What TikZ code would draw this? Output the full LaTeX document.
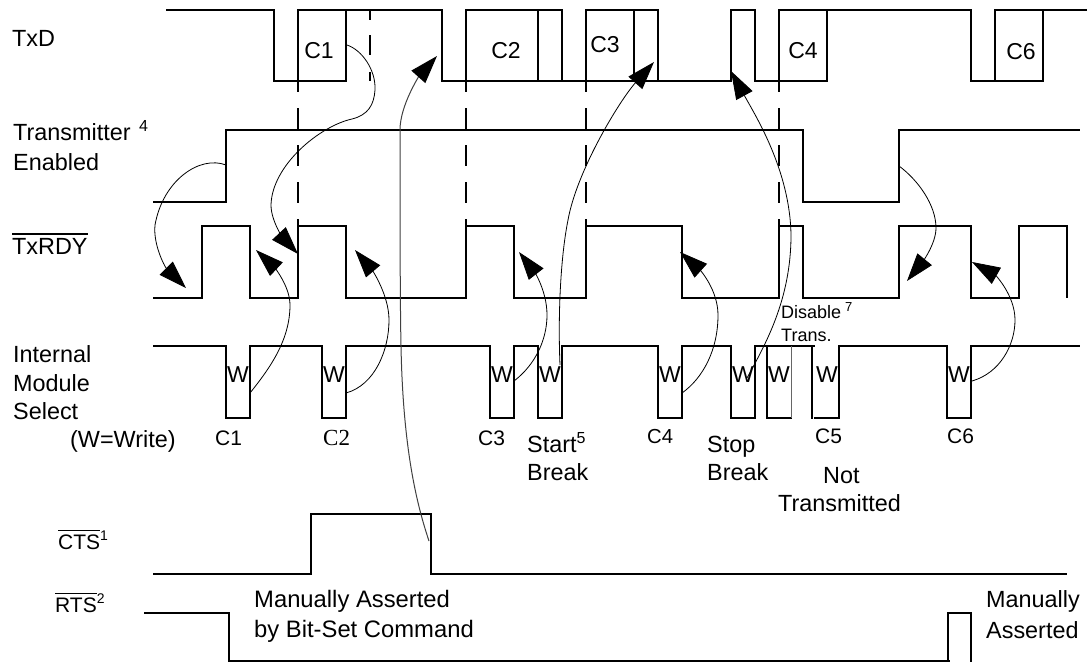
\documentclass[tikz,border=0pt]{standalone}
\usepackage{fontspec}
\setmainfont{Liberation Sans}
\newfontfamily\timesfont{Liberation Serif}
\usetikzlibrary{arrows.meta}
\newcommand{\supnum}[2][16]{\raisebox{9pt}{\fontsize{#1}{#1}\selectfont #2}}
\newcommand{\barsig}[1]{\leavevmode\vbox{\hrule height 1.4pt \kern 3.4pt\hbox{#1}}}

\begin{document}
\begin{tikzpicture}[
    x=1pt, y=-1pt,
    wave/.style={line width=1.5pt, line cap=butt, line join=miter, color=black},
    guide/.style={line width=1.5pt, color=black, dash pattern=on 21pt off 16pt},
    flow/.style={-{Triangle[length=28pt,width=18.5pt,black]}, line width=0.8pt, color=black},
    lab/.style={anchor=base west, inner sep=0pt, text=black, font=\fontsize{23.4}{28}\selectfont},
    big/.style={lab, font=\fontsize{23.8}{28}\selectfont},
    sig/.style={lab, font=\fontsize{21}{26}\selectfont},
    tiny/.style={lab, font=\fontsize{18}{22}\selectfont},
    chr/.style={anchor=base, inner sep=0pt, text=black, font=\fontsize{23}{28}\selectfont},
    wr/.style={anchor=base, inner sep=0pt, text=black, font=\fontsize{23}{26}\selectfont}
  ]
\useasboundingbox (0,0) rectangle (1087,662);

% ---------------- TxD ----------------
\foreach \a/\b in {166/274,298/442,466/562,586/658,731/755,779/971,995/1087}
  \draw[wave] (\a,10) -- (\b,10);
\foreach \a/\b in {274/346,442/658,731/658,755/827,971/1043}
  \draw[wave] (\a,81) -- (\b,81);
\foreach \a in {274,298,346,442,466,538,562,586,634,658,731,755,779,827,971,995,1043}
  \draw[wave] (\a,9.25) -- (\a,81.75);

% ---------------- dashed guides ----------------
\foreach \a in {298,466,586,779}
  \draw[guide, dash phase=11pt] (\a,82) -- (\a,225);
\draw[guide, dash pattern=on 10pt off 15pt on 20pt off 17pt] (370,10) -- (370,81);

% ---------------- other signals ----------------
% transmitter enabled
\draw[wave] (153,202) -| (226,130) -| (803,202) -| (899,130) -- (1080,130);
% txrdy
\draw[wave] (153,298) -| (202,226) -| (250,298) -| (298,226) -| (346,298) -| (466,226)
  -| (514,298) -| (586,226) -| (682,298) -| (779,226) -| (803,298) -| (899,226)
  -| (971,298) -| (1019,226) -| (1067,298);
% module select
\draw[wave] (153,346) -| (226,418) -| (250,346) -| (322,418) -| (346,346) -| (490,418)
  -| (514,346) -| (538,418) -| (562,346) -| (658,418) -| (682,346) -| (731,418)
  -| (755,346) -- (815,346);
\draw[wave] (767,346) |- (792,418);
\draw[line width=1pt, color=black!60] (791,346) -- (791,418);
\draw[wave] (812,346) -- (812,419);
\draw[wave] (814,418) -| (839,346) -| (947,418) -| (971,346) -- (1080,346);
% cts
\draw[wave] (153,574) -| (311,514) -| (431,574) -- (1067,574);
% rts
\draw[wave] (144,613) -| (229,661) -- (950,661);
\draw[wave] (948,661) |- (971,613) -- (971,662);

% ---------------- signal names ----------------
\node[lab] (txd) at (12,46) {TxD};
\node[lab] (ten) at (13,140) {Transmitter\kern8.5pt\supnum{4}};
\node[lab] (enb) at (13,170) {Enabled};
\node[lab] (rdy) at (12,254) {\barsig{TxRDY}};
\node[lab] (int) at (13,362) {Internal};
\node[lab] (mod) at (13,391) {Module};
\node[lab] (sel) at (13,419) {Select};
\node[lab] (wwr) at (70,447) {(W=Write)};
\node[sig] (cts) at (58,549) {\barsig{CTS}\supnum[14]{1}};
\node[sig] (rts) at (55,612) {\barsig{RTS}\supnum[14]{2}};

% ---------------- characters on TxD ----------------
\foreach \n/\t/\xc/\yc in {1/C1/319/58,2/C2/506/58,3/C3/605/52,4/C4/803/58,6/C6/1021/59}
  \node[chr] (tc\n) at (\xc,\yc) {\t};

% ---------------- write strobes ----------------
\foreach \i/\xw in {1/238,2/334,3/502,4/550,5/670,6/743,7/779,8/827,9/959}
  \node[wr] (w\i) at (\xw,382) {W};

% ---------------- strobe captions ----------------
\node[sig] (lc1) at (215,445) {C1};
\node[sig, font=\fontsize{23}{28}\timesfont] (lc2) at (323,445) {C2};
\node[sig] (lc3) at (478,445) {C3};
\node[sig, font=\fontsize{20.3}{24}\selectfont] (lc4) at (647,443) {C4};
\node[sig] (lc5) at (815,443) {C5};
\node[sig] (lc6) at (947,443) {C6};
\node[lab] (stt) at (527,452) {Start\supnum{5}};
\node[lab] (brk) at (527,480) {Break};
\node[lab] (stp) at (707,452) {Stop};
\node[lab] (brs) at (707,480) {Break};
\node[lab] (nt1) at (823,483) {Not};
\node[lab] (nt2) at (778,511) {Transmitted};
\node[tiny] (dis) at (781,318) {Disable\kern4pt\raisebox{7pt}{\fontsize{13}{13}\selectfont 7}};
\node[tiny] (trs) at (781,341) {Trans.};
\node[big] (ma1) at (254,607) {Manually Asserted};
\node[big] (ma2) at (254,637) {by Bit-Set Command};
\node[lab] (mb1) at (986,607) {Manually};
\node[lab] (mb2) at (986,638) {Asserted};

% ---------------- causal arrows ----------------
\coordinate (a1) at (347,45);    \coordinate (b1) at (298,254);
\coordinate (a2) at (226,165);   \coordinate (b2) at (186,288);
\coordinate (a3) at (250,393);   \coordinate (b3) at (256,250);
\coordinate (a4) at (346,393);   \coordinate (b4) at (355,250);
\coordinate (a5) at (429,541);   \coordinate (b5) at (437,56);
\coordinate (a6) at (514,381);   \coordinate (b6) at (519,252);
\coordinate (a7) at (560,365);   \coordinate (b7) at (654,62);
\coordinate (a8) at (682,393);   \coordinate (b8) at (680,252);
\coordinate (a9) at (747,378);   \coordinate (b9) at (731,71);
\coordinate (a10) at (899,166);  \coordinate (b10) at (907,281);
\coordinate (a11) at (972,381);  \coordinate (b11) at (972,262);

\draw[flow] (a1) .. controls (362,50) and (376,70) .. (375,90)
  .. controls (374,105) and (368,115) .. (352,119)
  .. controls (320,126) and (272,165) .. (271,205)
  .. controls (271,222) and (285,240) .. (b1);
\draw[flow] (a2) .. controls (200,155) and (163,180) .. (155,225)
  .. controls (153,245) and (165,267) .. (b2);
\draw[flow] (a3) .. controls (270,368) and (290,340) .. (290,305)
  .. controls (290,285) and (272,265) .. (b3);
\draw[flow] (a4) .. controls (375,385) and (389,350) .. (389,320)
  .. controls (389,295) and (372,270) .. (b4);
\draw[flow, color=black!75, line width=1pt] (a5) .. controls (417,505) and (403,450) .. (401,346)
  .. controls (400,300) and (400,200) .. (400,130)
  .. controls (400,105) and (420,75) .. (b5);
\draw[flow] (a6) .. controls (535,365) and (547,340) .. (547,315)
  .. controls (547,290) and (533,270) .. (b6);
\draw[flow] (a7) .. controls (558,320) and (560,260) .. (568,220)
  .. controls (577,170) and (620,100) .. (b7);
\draw[flow] (a8) .. controls (703,378) and (718,350) .. (718,315)
  .. controls (718,290) and (700,270) .. (b8);
\draw[flow] (a9) .. controls (765,345) and (791,300) .. (791,235)
  .. controls (790,170) and (755,115) .. (b9);
\draw[flow] (a10) .. controls (918,180) and (936,205) .. (936,228)
  .. controls (936,245) and (920,265) .. (b10);
\draw[flow] (a11) .. controls (1000,373) and (1015,345) .. (1015,320)
  .. controls (1015,295) and (995,275) .. (b11);

\end{tikzpicture}
\end{document}
